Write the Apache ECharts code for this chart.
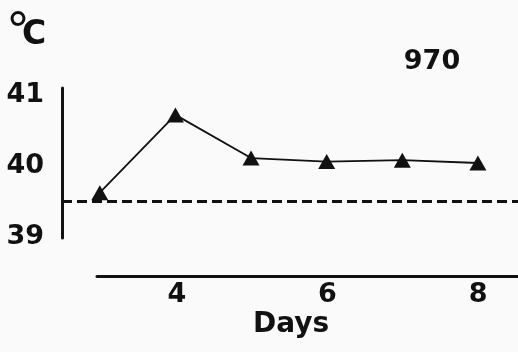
<!DOCTYPE html>
<html><head><meta charset="utf-8">
<script src="https://cdn.jsdelivr.net/npm/echarts@6/dist/echarts.min.js"></script>
<style>html,body{margin:0;padding:0;background:#fafafa}#c{width:518px;height:352px}</style>
</head><body><div id="c"></div>
<script>
var days = [3, 4, 5, 6, 7, 8];
var temps = [39.62, 40.72, 40.11, 40.06, 40.08, 40.04];
var yTicks = [39, 40, 41];
var xTicks = [4, 6, 8];
var baseline = 39.5;
var label = '970';
var unitDeg = '°';
var unitC = 'C';
var xName = 'Days';

var font = 'DejaVu Sans';
var chart = echarts.init(document.getElementById('c'));
chart.setOption({
  backgroundColor: '#fafafa',
  animation: false,
  grid: [
    {left: 62, right: 0, top: 88, height: 150},
    {left: 97, right: 0, top: 275, height: 1}
  ],
  xAxis: [
    {gridIndex: 0, type: 'value', min: 2.5, max: 8.53, show: false},
    {gridIndex: 1, type: 'value', min: 2.94, max: 8.53, position: 'bottom',
     axisLine: {show: true, lineStyle: {color: '#111', width: 3}},
     axisTick: {show: false}, splitLine: {show: false},
     axisLabel: {customValues: xTicks, color: '#111', fontFamily: font, fontWeight: 'bold', fontSize: 27, margin: 5}}
  ],
  yAxis: [
    {gridIndex: 0, type: 'value', min: 38.98, max: 41.1,
     axisLine: {show: true, lineStyle: {color: '#111', width: 3}},
     axisTick: {show: false}, splitLine: {show: false},
     axisLabel: {customValues: yTicks, color: '#111', fontFamily: font, fontWeight: 'bold', fontSize: 27, margin: 18}},
    {gridIndex: 1, type: 'value', min: 0, max: 1, show: false}
  ],
  series: [{
    type: 'line', xAxisIndex: 0, yAxisIndex: 0,
    data: days.map(function(d, i){ return [d, temps[i]]; }),
    symbol: 'triangle', symbolSize: [17, 15],
    lineStyle: {color: '#111', width: 1.8},
    itemStyle: {color: '#111'},
    markLine: {
      silent: true, symbol: 'none', label: {show: false},
      lineStyle: {color: '#111', width: 3, type: [10, 5]},
      data: [{yAxis: baseline}]
    }
  }],
  graphic: [
    {type: 'text', x: 18, y: 35, style: {text: unitDeg, font: '48px "DejaVu Sans"', fill: '#111', align: 'center', verticalAlign: 'middle'}},
    {type: 'text', x: 34, y: 35, style: {text: unitC, font: 'bold 33px "DejaVu Sans"', fill: '#111', align: 'center', verticalAlign: 'middle'}},
    {type: 'text', x: 432, y: 62, style: {text: label, font: 'bold 27px "DejaVu Sans"', fill: '#111', align: 'center', verticalAlign: 'middle'}},
    {type: 'text', x: 291, y: 325, style: {text: xName, font: 'bold 28px "DejaVu Sans"', fill: '#111', align: 'center', verticalAlign: 'middle'}}
  ]
});
</script></body></html>
